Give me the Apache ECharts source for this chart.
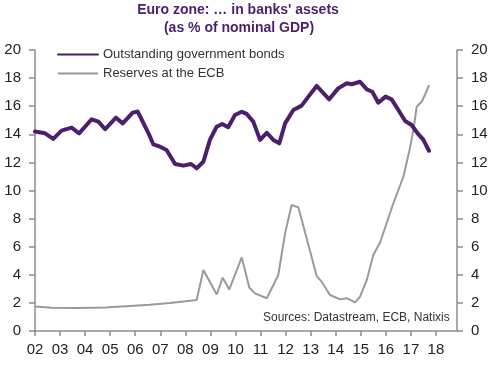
<!DOCTYPE html>
<html><head><meta charset="utf-8">
<script src="https://cdn.jsdelivr.net/npm/echarts@6/dist/echarts.min.js"></script>
<style>html,body{margin:0;padding:0;background:#fff}#c{width:500px;height:367px}</style>
</head><body><div id="c"></div>
<script>
var titleLines = ["Euro zone: \u2026 in banks' assets", "(as % of nominal GDP)"];
var seriesNames = ["Outstanding government bonds", "Reserves at the ECB"];
var sourceText = "Sources: Datastream, ECB, Natixis";
var xTicks = [2002,2003,2004,2005,2006,2007,2008,2009,2010,2011,2012,2013,2014,2015,2016,2017,2018];
var yTicks = [0,2,4,6,8,10,12,14,16,18,20];

var bondDates = [2002.0,2002.4,2002.73,2003.06,2003.46,2003.76,2004.26,2004.53,2004.8,2005.23,2005.5,2005.9,2006.1,2006.27,2006.53,2006.72,2006.99,2007.25,2007.59,2007.92,2008.23,2008.45,2008.72,2008.98,2009.25,2009.47,2009.71,2009.98,2010.25,2010.45,2010.71,2010.98,2011.25,2011.51,2011.75,2011.98,2012.31,2012.64,2012.91,2013.24,2013.74,2014.1,2014.44,2014.64,2014.97,2015.24,2015.46,2015.7,2015.99,2016.23,2016.5,2016.77,2017.03,2017.27,2017.5,2017.72];
var bondValues = [14.2,14.07,13.67,14.26,14.47,14.07,15.07,14.9,14.36,15.18,14.78,15.54,15.62,15.0,14.07,13.29,13.12,12.88,11.89,11.77,11.89,11.58,12.05,13.6,14.54,14.73,14.5,15.37,15.6,15.45,14.9,13.6,14.11,13.6,13.36,14.78,15.73,16.04,16.68,17.44,16.49,17.27,17.63,17.56,17.74,17.2,17.03,16.25,16.68,16.49,15.73,14.95,14.66,14.07,13.6,12.83];

var reserveDates = [2002.0,2002.67,2003.73,2004.8,2005.79,2006.59,2007.39,2008.45,2008.72,2009.25,2009.49,2009.75,2010.25,2010.55,2010.78,2011.25,2011.71,2011.98,2012.24,2012.51,2012.77,2013.0,2013.24,2013.44,2013.77,2014.17,2014.46,2014.77,2014.97,2015.24,2015.5,2015.77,2016.3,2016.7,2016.96,2017.1,2017.23,2017.43,2017.56,2017.73];
var reserveValues = [1.75,1.65,1.64,1.68,1.78,1.86,2.0,2.2,4.34,2.6,3.8,2.95,5.24,3.1,2.68,2.33,3.99,6.95,8.97,8.8,7.07,5.53,3.91,3.51,2.56,2.26,2.33,2.04,2.44,3.63,5.41,6.3,9.09,10.98,13.0,14.3,15.96,16.32,16.8,17.51];

function pairs(xs, ys){ return xs.map(function(x,i){ return [x, ys[i]]; }); }

var FONT = "Liberation Sans, Arial, sans-serif";
var PURPLE = "#4B1E6E";
var GRAY = "#9a9a9a";
var AXIS = "#8c8c8c";

var chart = echarts.init(document.getElementById('c'), null, {renderer:'canvas'});
var yAxisCommon = {
  type:'value', min:0, max:20, interval:2,
  axisLine:{show:true, lineStyle:{color:AXIS, width:1.5}},
  axisTick:{show:true, inside:false, length:6, lineStyle:{color:AXIS, width:1.5}},
  splitLine:{show:false},
  axisLabel:{fontSize:15, color:'#222', fontFamily:FONT, margin:14}
};
chart.setOption({
  animation:false,
  grid:{left:35, right:43, top:50, bottom:36, containLabel:false},
  graphic:[
    {type:'text', x:238, y:10, style:{text:titleLines[0], fontSize:14, fontWeight:'bold', fill:PURPLE, fontFamily:FONT, textAlign:'center', textVerticalAlign:'middle'}},
    {type:'text', x:239, y:28, style:{text:titleLines[1], fontSize:14, fontWeight:'bold', fill:PURPLE, fontFamily:FONT, textAlign:'center', textVerticalAlign:'middle'}},
    {type:'text', x:263, y:318, style:{text:sourceText, fontSize:12, fill:'#333', fontFamily:FONT, textAlign:'left', textVerticalAlign:'middle'}}
  ],
  legend:{
    show:true, orient:'vertical', left:57, top:48, padding:0, itemWidth:40, itemHeight:14, itemGap:6,
    textStyle:{fontSize:13, color:'#333', fontFamily:FONT},
    itemStyle:{opacity:0, borderWidth:0},
    data:[{name:seriesNames[0]},{name:seriesNames[1]}]
  },
  xAxis:{
    type:'value', min:2002, max:2018.84, interval:1,
    axisLine:{show:true, onZero:false, lineStyle:{color:AXIS, width:1.5}},
    axisTick:{show:true, length:5, customValues:xTicks, lineStyle:{color:AXIS, width:1.5}},
    splitLine:{show:false},
    axisLabel:{fontSize:15, color:'#222', fontFamily:FONT, margin:11, customValues:xTicks,
      formatter:function(v){ var s = String(Math.round(v) % 100); return s.length<2 ? '0'+s : s; }}
  },
  yAxis:[
    Object.assign({}, yAxisCommon, {position:'left'}),
    Object.assign({}, yAxisCommon, {position:'right'})
  ],
  series:[
    {name:seriesNames[0], type:'line', yAxisIndex:0, data:pairs(bondDates,bondValues), symbol:'none', smooth:false,
     lineStyle:{color:PURPLE, width:4, join:'round', cap:'round'}, itemStyle:{color:PURPLE}, z:3},
    {name:seriesNames[1], type:'line', yAxisIndex:1, data:pairs(reserveDates,reserveValues), symbol:'none', smooth:false,
     lineStyle:{color:GRAY, width:2}, itemStyle:{color:GRAY}, z:2}
  ]
});
</script></body></html>
